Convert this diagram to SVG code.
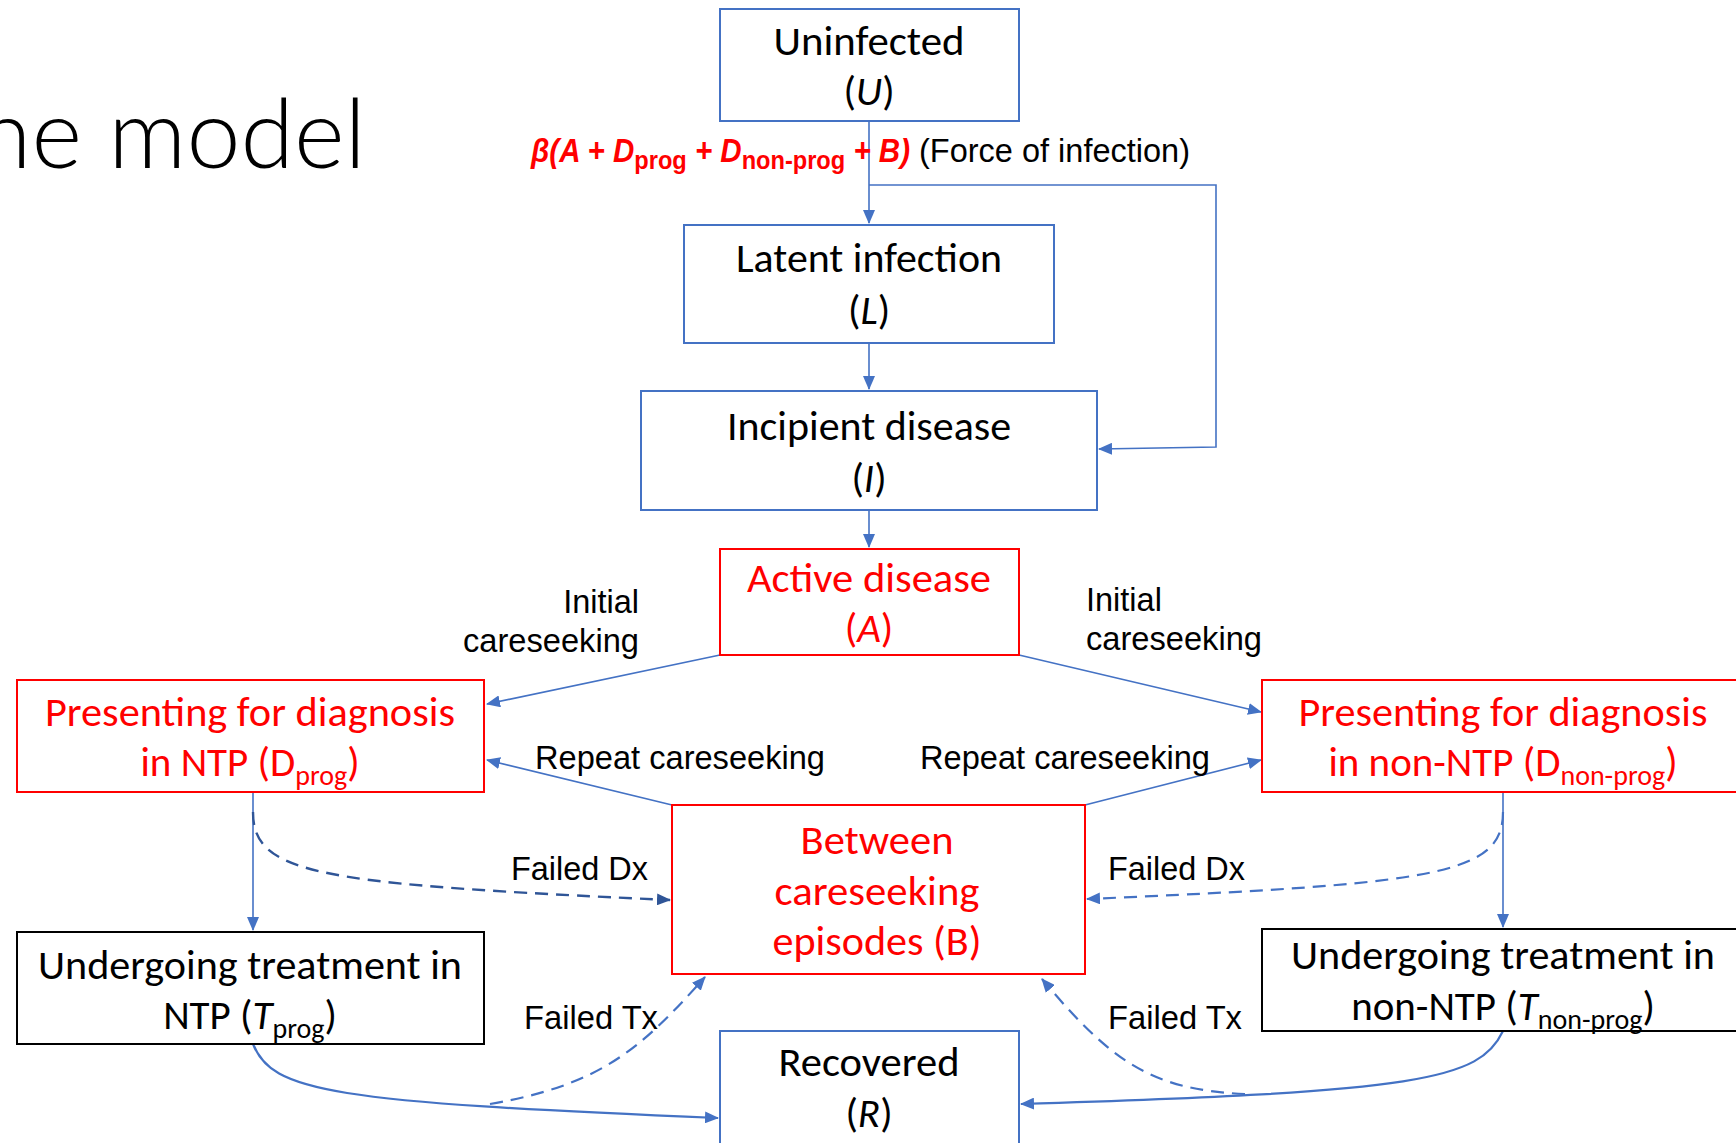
<svg xmlns="http://www.w3.org/2000/svg" width="1736" height="1143" viewBox="0 0 1736 1143">
<style>
.box{fill:#fff;stroke-width:2}
.blue{stroke:#4472C4}
.red{stroke:#FF0000}
.blk{stroke:#000}
.bt{font-family:Carlito,Lato,"Open Sans",sans-serif;font-size:41px;text-anchor:middle;fill:#000}
.rt{fill:#FF0000}
.lbl{font-family:"Liberation Sans",Arial,sans-serif;font-size:32.5px;fill:#000}
.fx{fill:#FF0000;font-weight:bold;font-style:italic}
.con{fill:none;stroke:#4472C4;stroke-width:1.6}
.dash{fill:none;stroke:#4472C4;stroke-width:2.2;stroke-dasharray:13 8}
.dashd{fill:none;stroke:#2F5597;stroke-width:2.4;stroke-dasharray:13 8}
.sub{font-size:28px}
.fsub{font-size:26px;font-style:normal}
</style>
<defs>
<marker id="ah" markerUnits="userSpaceOnUse" markerWidth="14" markerHeight="12" refX="13" refY="6" orient="auto"><path d="M0,0 L14,6 L0,12 z" fill="#4472C4"/></marker>
<marker id="ahd" markerUnits="userSpaceOnUse" markerWidth="14" markerHeight="12" refX="13" refY="6" orient="auto"><path d="M0,0 L14,6 L0,12 z" fill="#2F5597"/></marker>
</defs>
<rect width="1736" height="1143" fill="#fff"/>
<text x="366" y="168" font-family="Lato,'Open Sans',sans-serif" font-weight="300" font-size="97" text-anchor="end" fill="#000">he model</text>

<g id="connectors">
<line class="con" x1="869" y1="121" x2="869" y2="223" marker-end="url(#ah)"/>
<polyline class="con" points="869,185 1216,185 1216,447 1099,449" marker-end="url(#ah)"/>
<line class="con" x1="869" y1="343" x2="869" y2="389" marker-end="url(#ah)"/>
<line class="con" x1="869" y1="510" x2="869" y2="547" marker-end="url(#ah)"/>
<line class="con" x1="720" y1="655" x2="487" y2="704" marker-end="url(#ah)"/>
<line class="con" x1="1019" y1="655" x2="1261" y2="712" marker-end="url(#ah)"/>
<line class="con" x1="672" y1="805" x2="487" y2="760" marker-end="url(#ah)"/>
<line class="con" x1="1085" y1="805" x2="1261" y2="760" marker-end="url(#ah)"/>
<line class="con" x1="253" y1="792" x2="253" y2="930" marker-end="url(#ah)"/>
<line class="con" x1="1503" y1="792" x2="1503" y2="927" marker-end="url(#ah)"/>
<path class="dashd" d="M253,812 C253,875 320,884 670,900" marker-end="url(#ahd)"/>
<path class="dash" d="M1503,812 C1503,875 1436,884 1087,899" marker-end="url(#ah)"/>
<path class="con" style="stroke-width:2.2" d="M253,1044 C272,1092 330,1102 718,1118" marker-end="url(#ah)"/>
<path class="con" style="stroke-width:2.2" d="M1503,1031 C1480,1080 1420,1092 1021,1104" marker-end="url(#ah)"/>
<path class="dash" d="M490,1104 C600,1085 640,1050 705,977" marker-end="url(#ah)"/>
<path class="dash" d="M1245,1094 C1150,1090 1110,1060 1042,979" marker-end="url(#ah)"/>
</g>

<g id="labels">
<text class="lbl fx" x="531" y="162" textLength="379" lengthAdjust="spacingAndGlyphs">β(A + D<tspan class="fsub" dy="7">prog</tspan><tspan dy="-7"> + D</tspan><tspan class="fsub" dy="7">non-prog</tspan><tspan dy="-7"> + B)</tspan></text>
<text class="lbl" x="919" y="162" textLength="271" lengthAdjust="spacingAndGlyphs">(Force of infection)</text>
<text class="lbl" x="639" y="613" text-anchor="end">Initial</text>
<text class="lbl" x="639" y="652" text-anchor="end" textLength="176" lengthAdjust="spacingAndGlyphs">careseeking</text>
<text class="lbl" x="1086" y="611">Initial</text>
<text class="lbl" x="1086" y="650" textLength="176" lengthAdjust="spacingAndGlyphs">careseeking</text>
<text class="lbl" x="535" y="769" textLength="290" lengthAdjust="spacingAndGlyphs">Repeat careseeking</text>
<text class="lbl" x="920" y="769" textLength="290" lengthAdjust="spacingAndGlyphs">Repeat careseeking</text>
<text class="lbl" x="511" y="880" textLength="137" lengthAdjust="spacingAndGlyphs">Failed Dx</text>
<text class="lbl" x="1108" y="880" textLength="137" lengthAdjust="spacingAndGlyphs">Failed Dx</text>
<text class="lbl" x="524" y="1029" textLength="134" lengthAdjust="spacingAndGlyphs">Failed Tx</text>
<text class="lbl" x="1108" y="1029" textLength="134" lengthAdjust="spacingAndGlyphs">Failed Tx</text>
</g>

<g id="uninfected">
<rect class="box blue" x="720" y="9" width="299" height="112"/>
<text class="bt" x="869" y="55" textLength="191" lengthAdjust="spacingAndGlyphs">Uninfected</text>
<text class="bt" x="869" y="105">(<tspan font-style="italic">U</tspan>)</text>
</g>
<g id="latent">
<rect class="box blue" x="684" y="225" width="370" height="118"/>
<text class="bt" x="869" y="272" textLength="266" lengthAdjust="spacingAndGlyphs">Latent infection</text>
<text class="bt" x="869" y="324">(<tspan font-style="italic">L</tspan>)</text>
</g>
<g id="incipient">
<rect class="box blue" x="641" y="391" width="456" height="119"/>
<text class="bt" x="869" y="440" textLength="284" lengthAdjust="spacingAndGlyphs">Incipient disease</text>
<text class="bt" x="869" y="492">(<tspan font-style="italic">I</tspan>)</text>
</g>
<g id="active">
<rect class="box red" x="720" y="549" width="299" height="106"/>
<text class="bt rt" x="869" y="592" textLength="244" lengthAdjust="spacingAndGlyphs">Active disease</text>
<text class="bt rt" x="869" y="642">(<tspan font-style="italic">A</tspan>)</text>
</g>
<g id="dprog">
<rect class="box red" x="17" y="680" width="467" height="112"/>
<text class="bt rt" x="250" y="726" textLength="410" lengthAdjust="spacingAndGlyphs">Presenting for diagnosis</text>
<text class="bt rt" x="250" y="776">in NTP (D<tspan class="sub" dy="9">prog</tspan><tspan dy="-9">)</tspan></text>
</g>
<g id="dnonprog">
<rect class="box red" x="1262" y="680" width="484" height="112"/>
<text class="bt rt" x="1503" y="726" textLength="409" lengthAdjust="spacingAndGlyphs">Presenting for diagnosis</text>
<text class="bt rt" x="1503" y="776">in non-NTP (D<tspan class="sub" dy="9">non-prog</tspan><tspan dy="-9">)</tspan></text>
</g>
<g id="between">
<rect class="box red" x="672" y="805" width="413" height="169"/>
<text class="bt rt" x="877" y="854" textLength="153" lengthAdjust="spacingAndGlyphs">Between</text>
<text class="bt rt" x="877" y="905" textLength="205" lengthAdjust="spacingAndGlyphs">careseeking</text>
<text class="bt rt" x="877" y="955" textLength="209" lengthAdjust="spacingAndGlyphs">episodes (B)</text>
</g>
<g id="tprog">
<rect class="box blk" x="17" y="932" width="467" height="112"/>
<text class="bt" x="250" y="979" textLength="424" lengthAdjust="spacingAndGlyphs">Undergoing treatment in</text>
<text class="bt" x="250" y="1029">NTP (<tspan font-style="italic">T</tspan><tspan class="sub" dy="9">prog</tspan><tspan dy="-9">)</tspan></text>
</g>
<g id="tnonprog">
<rect class="box blk" x="1262" y="929" width="484" height="102"/>
<text class="bt" x="1503" y="969" textLength="424" lengthAdjust="spacingAndGlyphs">Undergoing treatment in</text>
<text class="bt" x="1503" y="1020">non-NTP (<tspan font-style="italic">T</tspan><tspan class="sub" dy="9">non-prog</tspan><tspan dy="-9">)</tspan></text>
</g>
<g id="recovered">
<rect class="box blue" x="720" y="1031" width="299" height="120"/>
<text class="bt" x="869" y="1076" textLength="181" lengthAdjust="spacingAndGlyphs">Recovered</text>
<text class="bt" x="869" y="1127">(<tspan font-style="italic">R</tspan>)</text>
</g>
</svg>
